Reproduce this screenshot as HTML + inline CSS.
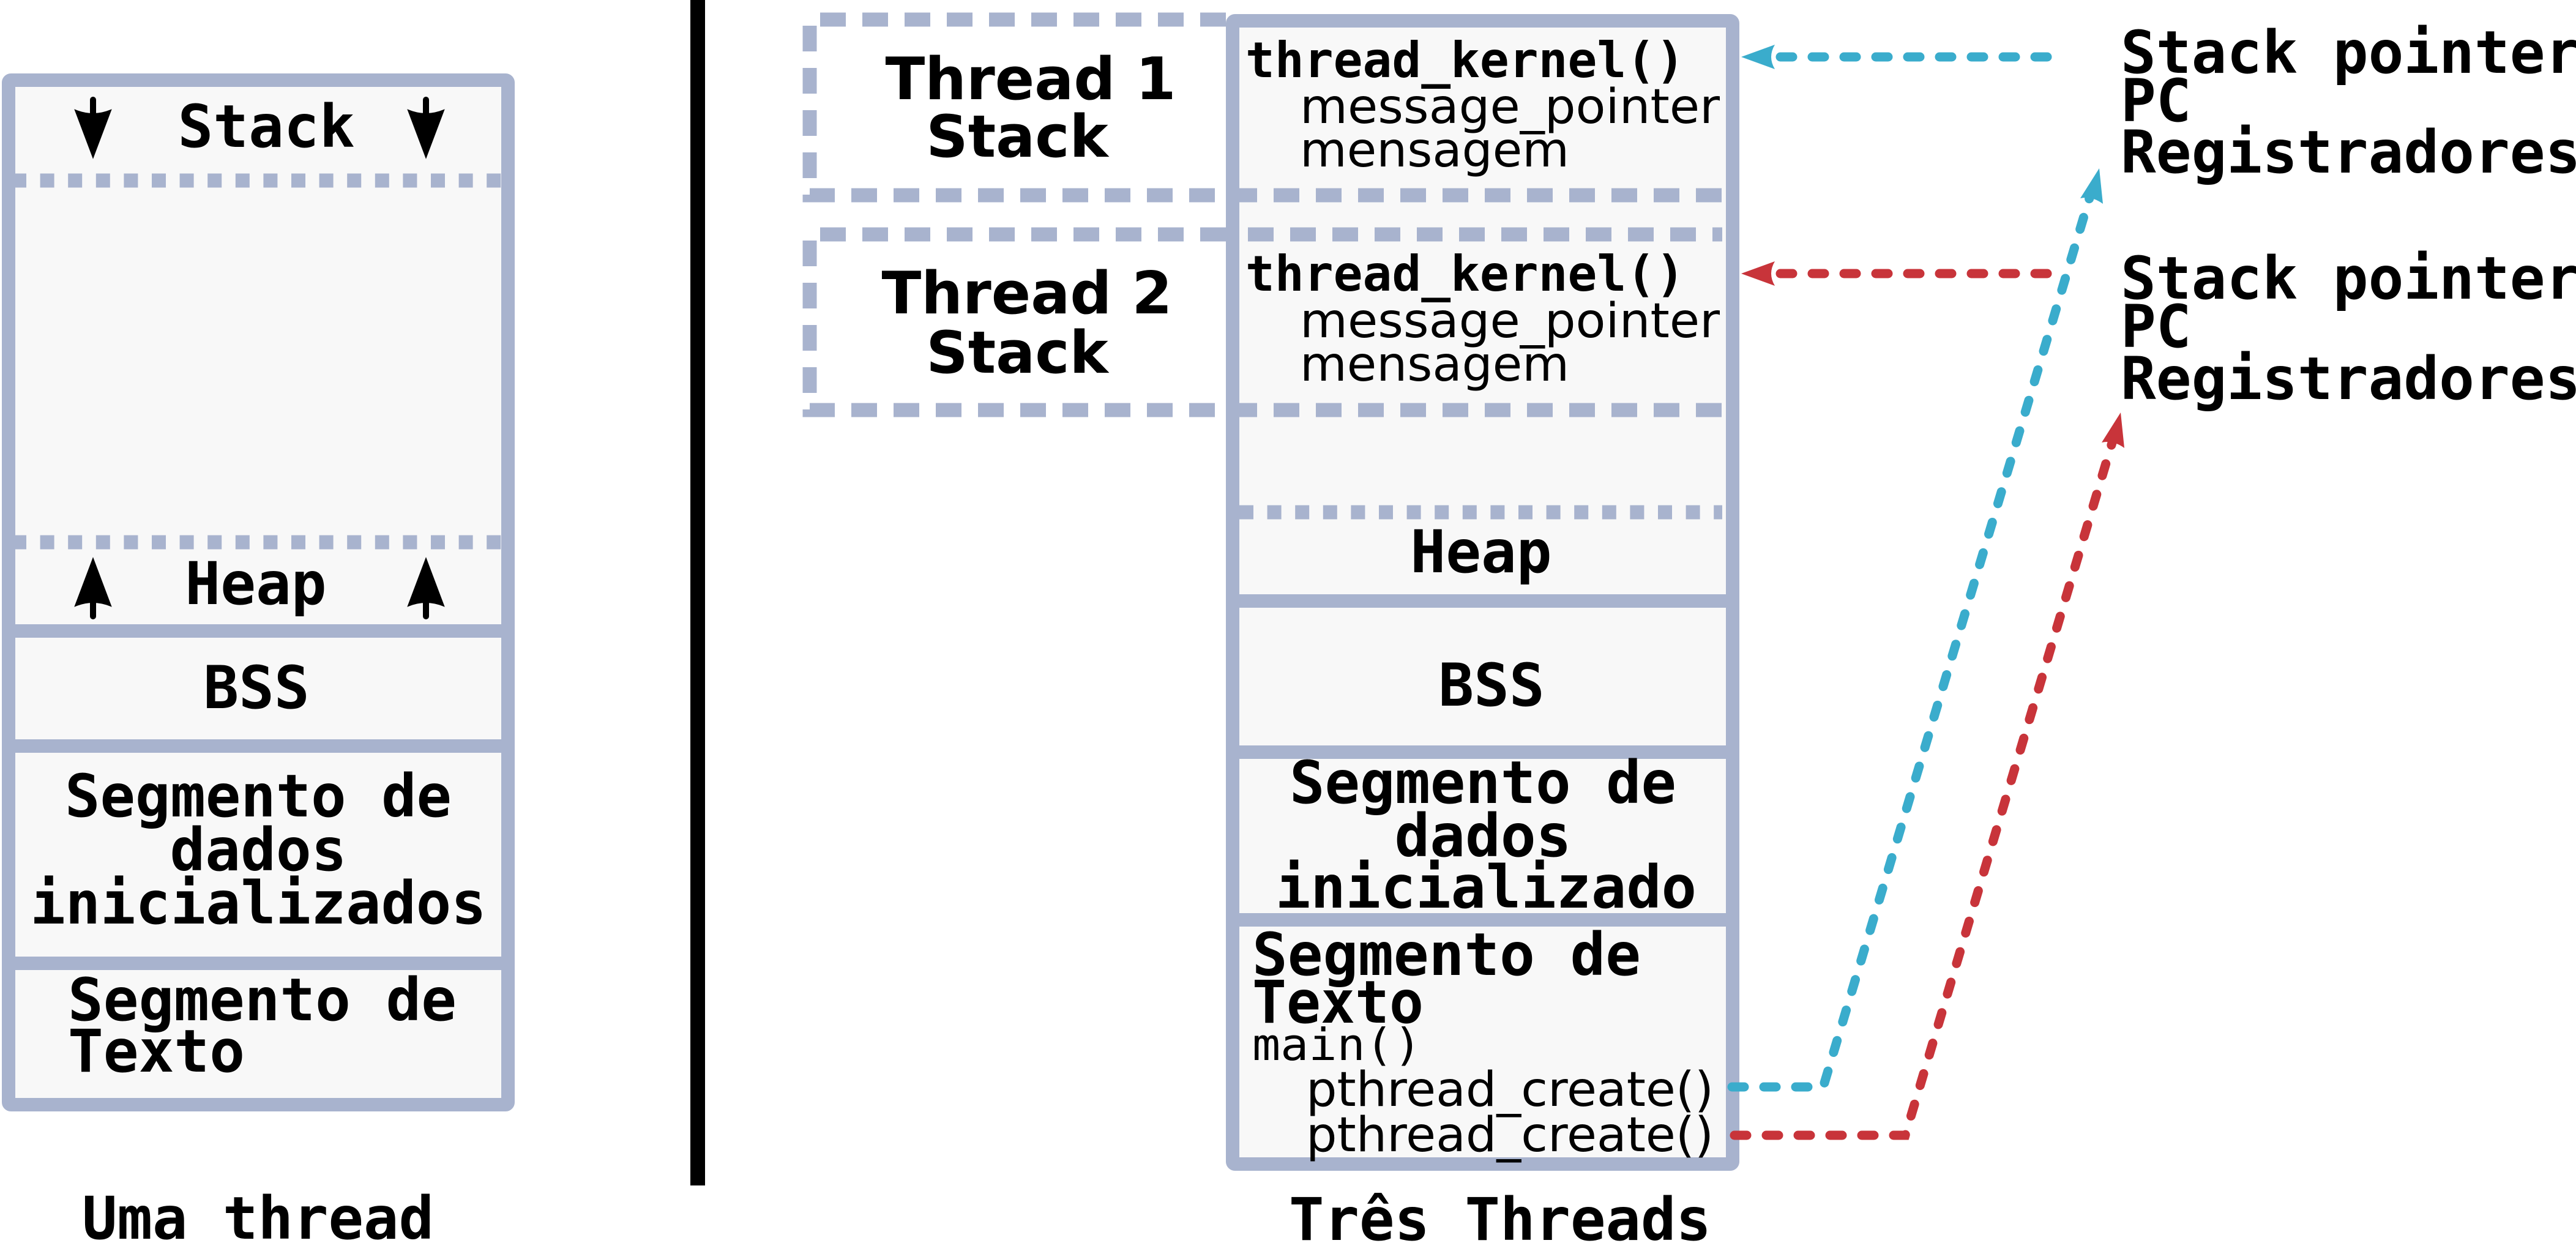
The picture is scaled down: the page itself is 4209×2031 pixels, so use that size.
<!DOCTYPE html>
<html><head><meta charset="utf-8"><style>
html,body{margin:0;padding:0;background:#fff;}
svg{display:block;}
.mb{font-family:"DejaVu Sans Mono","Liberation Mono",monospace;font-weight:bold;}
.sb{font-family:"DejaVu Sans","Liberation Sans",sans-serif;font-weight:bold;}
.sr{font-family:"DejaVu Sans","Liberation Sans",sans-serif;}
.mr{font-family:"DejaVu Sans Mono","Liberation Mono",monospace;}
</style></head><body>
<svg width="4209" height="2031" viewBox="0 0 4209 2031" xmlns="http://www.w3.org/2000/svg">
<defs>
<marker id="ab" viewBox="0 0 10 10" refX="9" refY="5" markerWidth="6" markerHeight="6" orient="auto" markerUnits="strokeWidth">
<path d="M10,5 L0,0 Q3,5 0,10 Z" fill="#3aaccc"/></marker>
<marker id="ar" viewBox="0 0 10 10" refX="9" refY="5" markerWidth="6" markerHeight="6" orient="auto" markerUnits="strokeWidth">
<path d="M10,5 L0,0 Q3,5 0,10 Z" fill="#c8343a"/></marker>
</defs>
<!-- Left box -->
<rect x="14" y="131" width="816" height="1674" rx="4" fill="#f8f8f8" stroke="#a8b3ce" stroke-width="22"/>
<line x1="20" y1="295" x2="822" y2="295" stroke="#a8b3ce" stroke-width="23" stroke-dasharray="23,22.6"/>
<line x1="20" y1="886" x2="822" y2="886" stroke="#a8b3ce" stroke-width="23" stroke-dasharray="23,22.6"/>
<line x1="14" y1="1031" x2="830" y2="1031" stroke="#a8b3ce" stroke-width="22"/>
<line x1="14" y1="1219" x2="830" y2="1219" stroke="#a8b3ce" stroke-width="22"/>
<line x1="14" y1="1574" x2="830" y2="1574" stroke="#a8b3ce" stroke-width="22"/>
<!-- arrows -->
<g fill="#000" stroke="#000">
<line x1="152" y1="163" x2="152" y2="200" stroke-width="10" stroke-linecap="round"/>
<path d="M123,180 Q152,192 181,180 L152,257 Z" stroke-width="2"/>
<line x1="696" y1="163" x2="696" y2="200" stroke-width="10" stroke-linecap="round"/>
<path d="M667,180 Q696,192 725,180 L696,257 Z" stroke-width="2"/>
<line x1="152" y1="1007" x2="152" y2="970" stroke-width="10" stroke-linecap="round"/>
<path d="M123,990 Q152,978 181,990 L152,913 Z" stroke-width="2"/>
<line x1="696" y1="1007" x2="696" y2="970" stroke-width="10" stroke-linecap="round"/>
<path d="M667,990 Q696,978 725,990 L696,913 Z" stroke-width="2"/>
</g>
<g class="mb" font-size="96" fill="#000">
<text x="435" y="240" text-anchor="middle">Stack</text>
<text x="418" y="987" text-anchor="middle">Heap</text>
<text x="419" y="1157" text-anchor="middle">BSS</text>
<text x="422" y="1334" text-anchor="middle" textLength="632" lengthAdjust="spacingAndGlyphs">Segmento de</text>
<text x="422" y="1422" text-anchor="middle">dados</text>
<text x="422" y="1509" text-anchor="middle" textLength="745" lengthAdjust="spacingAndGlyphs">inicializados</text>
<text x="111" y="1667" textLength="635" lengthAdjust="spacingAndGlyphs">Segmento de</text>
<text x="111" y="1751">Texto</text>
<text x="134" y="2024" textLength="575" lengthAdjust="spacingAndGlyphs">Uma thread</text>
<text x="2451" y="2026" text-anchor="middle" textLength="690" lengthAdjust="spacingAndGlyphs">Três Threads</text>
</g>
<!-- vertical line -->
<rect x="1128" y="0" width="24" height="1937" fill="#000"/>
<!-- Main box -->
<rect x="2014" y="34" width="817" height="1868" rx="4" fill="#f8f8f8" stroke="#a8b3ce" stroke-width="22"/>
<!-- Thread stack dashed boxes -->
<g fill="none" stroke="#a8b3ce" stroke-width="23" stroke-dasharray="42,27">
<path d="M2003,32 L1323,32 L1323,319 L2814,319"/>
<path d="M2003,383 L1323,383 L1323,670 L2814,670"/>
<line x1="2039" y1="383" x2="2814" y2="383"/>
</g>
<line x1="2025" y1="837" x2="2814" y2="837" stroke="#a8b3ce" stroke-width="23" stroke-dasharray="23,22.6"/>
<line x1="2014" y1="982" x2="2831" y2="982" stroke="#a8b3ce" stroke-width="22"/>
<line x1="2014" y1="1229" x2="2831" y2="1229" stroke="#a8b3ce" stroke-width="22"/>
<line x1="2014" y1="1503" x2="2831" y2="1503" stroke="#a8b3ce" stroke-width="22"/>
<g class="sb" font-size="95" fill="#000">
<text x="1684" y="162" text-anchor="middle">Thread 1</text>
<text x="1662" y="256" text-anchor="middle">Stack</text>
<text x="1678" y="512" text-anchor="middle">Thread 2</text>
<text x="1662" y="609" text-anchor="middle">Stack</text>
</g>
<g class="mb" font-size="80" fill="#000">
<text x="2035" y="126" textLength="718" lengthAdjust="spacingAndGlyphs">thread_kernel()</text>
<text x="2035" y="475" textLength="718" lengthAdjust="spacingAndGlyphs">thread_kernel()</text>
</g>
<g class="sr" font-size="78" fill="#000">
<text x="2124" y="201" textLength="686" lengthAdjust="spacingAndGlyphs">message_pointer</text>
<text x="2124" y="272" textLength="440" lengthAdjust="spacingAndGlyphs">mensagem</text>
<text x="2124" y="551" textLength="686" lengthAdjust="spacingAndGlyphs">message_pointer</text>
<text x="2124" y="622" textLength="440" lengthAdjust="spacingAndGlyphs">mensagem</text>
<text x="2134" y="1807" textLength="666" lengthAdjust="spacingAndGlyphs">pthread_create()</text>
<text x="2134" y="1881" textLength="666" lengthAdjust="spacingAndGlyphs">pthread_create()</text>
</g>
<g class="mb" font-size="96" fill="#000">
<text x="2420" y="935" text-anchor="middle">Heap</text>
<text x="2437" y="1153" text-anchor="middle">BSS</text>
<text x="2423" y="1312" text-anchor="middle" textLength="632" lengthAdjust="spacingAndGlyphs">Segmento de</text>
<text x="2423" y="1399" text-anchor="middle">dados</text>
<text x="2428" y="1483" text-anchor="middle" textLength="688" lengthAdjust="spacingAndGlyphs">inicializado</text>
<text x="2046" y="1593" textLength="635" lengthAdjust="spacingAndGlyphs">Segmento de</text>
<text x="2046" y="1671" textLength="280" lengthAdjust="spacingAndGlyphs">Texto</text>
<text x="3465" y="119">Stack pointer</text>
<text x="3465" y="198">PC</text>
<text x="3465" y="282">Registradores</text>
<text x="3465" y="488">Stack pointer</text>
<text x="3465" y="567">PC</text>
<text x="3465" y="652">Registradores</text>
</g>
<text class="mr" x="2046" y="1732" font-size="72" textLength="277" lengthAdjust="spacingAndGlyphs">main()</text>
<!-- connectors -->
<g fill="none" stroke-width="15" stroke-linecap="round" stroke-dasharray="20,32">
<path d="M3345,93 L2875,93" stroke="#3aaccc"/>
<path d="M3345,447 L2875,447" stroke="#c8343a"/>
<path d="M2830,1776 L2979,1776 L3418,310" stroke="#3aaccc"/>
<path d="M2834,1855 L3113,1855 L3455,710" stroke="#c8343a"/>
</g>
<path d="M2845,93 L2900,73 Q2888,93 2900,113 Z" fill="#3aaccc"/>
<path d="M2845,447 L2900,427 Q2888,447 2900,467 Z" fill="#c8343a"/>
<path d="M3430,275 L3436,333 Q3418,320 3399,324 Z" fill="#3aaccc"/>
<path d="M3465,674 L3471,732 Q3453,719 3434,723 Z" fill="#c8343a"/>
</svg>
</body></html>
